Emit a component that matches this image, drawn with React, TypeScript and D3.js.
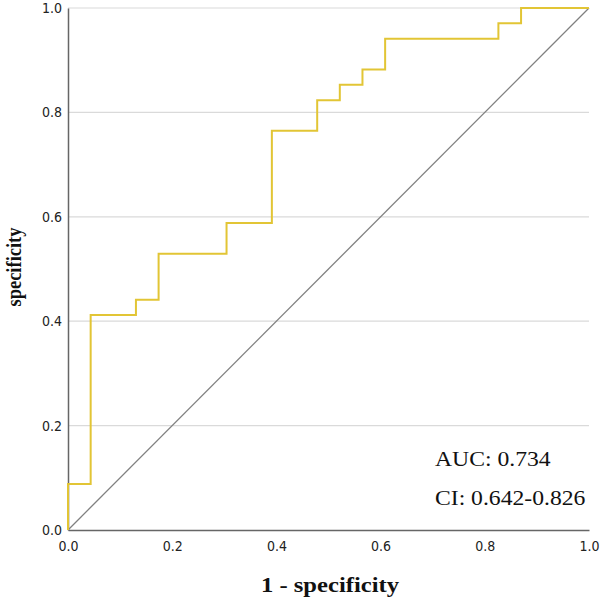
import React, { useRef, useEffect } from 'react';
import * as d3 from 'd3';

// ROC step points (1 - specificity, specificity)
const fprValues = [0, 0, 0.0435, 0.0435, 0.1304, 0.1304, 0.1739, 0.1739, 0.3043, 0.3043, 0.3913, 0.3913, 0.4783, 0.4783, 0.5217, 0.5217, 0.5652, 0.5652, 0.6087, 0.6087, 0.8261, 0.8261, 0.8696, 0.8696, 1.0];
const tprValues = [0, 0.0882, 0.0882, 0.4118, 0.4118, 0.4412, 0.4412, 0.5294, 0.5294, 0.5882, 0.5882, 0.7647, 0.7647, 0.8235, 0.8235, 0.8529, 0.8529, 0.8824, 0.8824, 0.9412, 0.9412, 0.9706, 0.9706, 1.0, 1.0];
const tickValues = [0, 0.2, 0.4, 0.6, 0.8, 1.0];
const annotations = ['AUC: 0.734', 'CI: 0.642-0.826'];

export default function App(): JSX.Element {
  const svgRef = useRef<SVGSVGElement>(null);

  useEffect(() => {
    const el = svgRef.current;
    if (el == null) return;
    const svg = d3.select(el);
    svg.selectAll('*').remove();

    const x = d3.scaleLinear().domain([0, 1]).range([68, 589]);
    const y = d3.scaleLinear().domain([0, 1]).range([530, 8]);
    const tickFont = '"DejaVu Sans Condensed", "Liberation Sans Narrow", sans-serif';
    const serif = '"Liberation Serif", serif';

    // horizontal grid lines
    svg
      .selectAll('line.grid')
      .data(tickValues.slice(1))
      .join('line')
      .attr('class', 'grid')
      .attr('x1', x(0))
      .attr('x2', x(1))
      .attr('y1', (d) => y(d))
      .attr('y2', (d) => y(d))
      .attr('stroke', '#dadada')
      .attr('stroke-width', 1.2);

    // axes
    const yAxis = svg.append('g').attr('transform', `translate(${x(0)},0)`).call(d3.axisLeft(y).tickValues(tickValues).tickFormat(d3.format('.1f')).tickSize(0).tickPadding(6));
    const xAxis = svg.append('g').attr('transform', `translate(0,${y(0)})`).call(d3.axisBottom(x).tickValues(tickValues).tickFormat(d3.format('.1f')).tickSize(0).tickPadding(11));
    [yAxis, xAxis].forEach((g) => {
      g.select('.domain').attr('stroke', '#666').attr('stroke-width', 1.5);
      g.selectAll('text').attr('font-family', tickFont).attr('font-size', 14).attr('fill', '#222');
    });

    // reference diagonal
    svg
      .append('line')
      .attr('x1', x(0))
      .attr('y1', y(0))
      .attr('x2', x(1))
      .attr('y2', y(1))
      .attr('stroke', '#808080')
      .attr('stroke-width', 1.3);

    // ROC curve
    const pts = fprValues.map((f, i) => [f, tprValues[i]] as [number, number]);
    const line = d3
      .line<[number, number]>()
      .x((d) => x(d[0]))
      .y((d) => y(d[1]));
    svg
      .append('path')
      .datum(pts)
      .attr('d', line)
      .attr('fill', 'none')
      .attr('stroke', '#e2c535')
      .attr('stroke-width', 2);

    // annotations (source image is slightly stretched horizontally)
    svg
      .selectAll('text.note')
      .data(annotations)
      .join('text')
      .attr('class', 'note')
      .attr('transform', (d, i) => `translate(435,${466 + i * 39}) scale(1.1,1)`)
      .attr('font-family', serif)
      .attr('font-size', 21.5)
      .attr('fill', '#111')
      .text((d) => d);

    // axis titles
    svg
      .append('text')
      .attr('transform', 'translate(330,592) scale(1.12,1)')
      .attr('text-anchor', 'middle')
      .attr('font-family', serif)
      .attr('font-weight', 'bold')
      .attr('font-size', 22)
      .attr('fill', '#111')
      .text('1 - specificity');
    svg
      .append('text')
      .attr('transform', 'translate(21,267) scale(1.12,1) rotate(-90)')
      .attr('text-anchor', 'middle')
      .attr('font-family', serif)
      .attr('font-weight', 'bold')
      .attr('font-size', 18.5)
      .attr('fill', '#111')
      .text('specificity');
  }, []);

  return <svg ref={svgRef} width={601} height={601} style={{ position: 'absolute', left: 0, top: 0, background: '#fff' }} />;
}
